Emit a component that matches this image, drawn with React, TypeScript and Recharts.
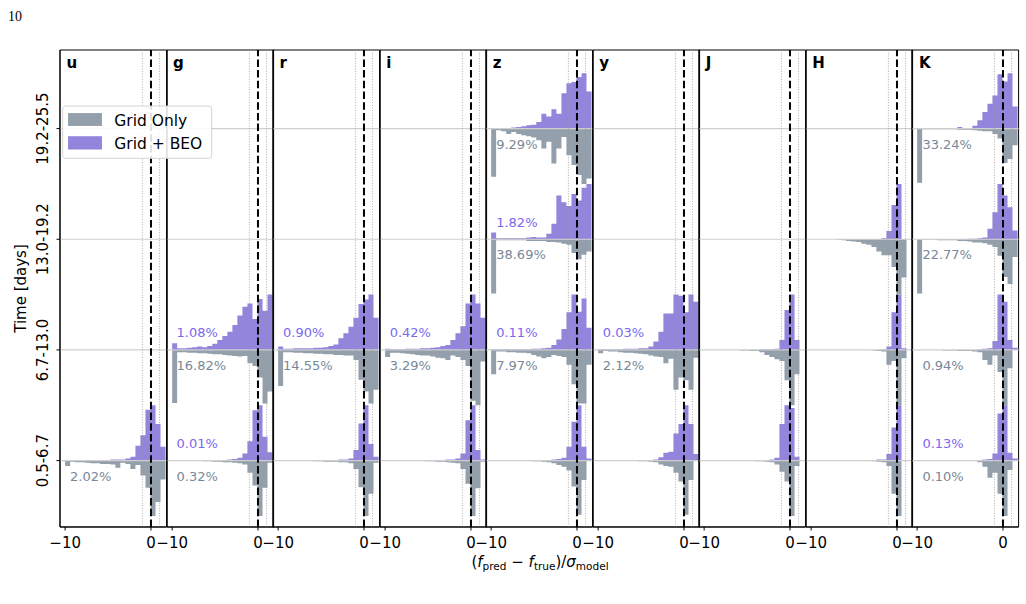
import { ComposedChart, Area, XAxis, YAxis, ReferenceLine, ReferenceArea } from "recharts";

const FONT = "'DejaVu Sans', sans-serif";
const BEO_FILL = "#9384dc";
const GRID_FILL = "#939fab";
const BEO_TEXT = "#7b68ee";
const GRID_TEXT = "#778899";

// histogram bin edges (shared by every band)
const BIN_EDGES = [
  -10.0, -9.42, -8.83, -8.25, -7.66, -7.08, -6.49, -5.91, -5.32, -4.74, -4.15,
  -3.57, -2.98, -2.4, -1.81, -1.23, -0.64, -0.06, 0.53, 1.11, 1.7,
];
const ROW_LABELS = ["0.5-6.7", "6.7-13.0", "13.0-19.2", "19.2-25.5"];
const ROWS = [0, 1, 2, 3];
const X_TICKS = [-10, 0];
const BANDS = ["u", "g", "r", "i", "z", "y", "J", "H", "K"];

// normalised counts (1 = tallest bin of that histogram); row 0 = 0.5-6.7 d
const beoU0 = [0, 0, 0.01, 0.01, 0.01, 0.01, 0.01, 0.01, 0.01, 0.02, 0.02, 0.02, 0.04, 0.07, 0.27, 0.46, 0.92, 1.0, 0.66, 0.25];
const gridU0 = [0.1, 0.02, 0.03, 0.03, 0.04, 0.05, 0.05, 0.06, 0.06, 0.07, 0.13, 0.04, 0.06, 0.15, 0.08, 0.27, 0.49, 1.0, 0.75, 0.34];

const beoG1 = [0.12, 0.03, 0.03, 0.04, 0.05, 0.06, 0.05, 0.07, 0.11, 0.18, 0.25, 0.33, 0.45, 0.62, 0.78, 0.84, 0.56, 0.92, 0.71, 1.0];
const gridG1 = [0.96, 0.04, 0.04, 0.05, 0.05, 0.06, 0.06, 0.07, 0.08, 0.08, 0.09, 0.1, 0.11, 0.12, 0.11, 0.24, 0.29, 0.5, 0.97, 0.75];
const beoG0 = [0, 0, 0, 0, 0, 0, 0, 0, 0.01, 0.01, 0.01, 0.02, 0.03, 0.05, 0.13, 0.35, 0.91, 1.0, 0.43, 0.15];
const gridG0 = [0, 0, 0, 0, 0, 0, 0.01, 0.01, 0.02, 0.02, 0.03, 0.03, 0.04, 0.05, 0.07, 0.22, 0.45, 1.0, 0.49, 0.04];

const beoR1 = [0.06, 0.02, 0.02, 0.03, 0.03, 0.03, 0.03, 0.04, 0.04, 0.05, 0.07, 0.1, 0.21, 0.3, 0.42, 0.58, 0.83, 0.91, 1.0, 0.58];
const gridR1 = [0.65, 0.04, 0.04, 0.05, 0.05, 0.06, 0.06, 0.07, 0.07, 0.08, 0.08, 0.09, 0.09, 0.1, 0.1, 0.18, 0.54, 0.75, 0.97, 0.72];
const beoR0 = [0, 0, 0, 0, 0, 0, 0, 0, 0, 0.01, 0.01, 0.01, 0.02, 0.02, 0.04, 0.19, 0.67, 1.0, 0.3, 0.07];
const gridR0 = [0, 0, 0, 0, 0, 0, 0, 0.01, 0.01, 0.02, 0.02, 0.02, 0.03, 0.03, 0.05, 0.15, 0.48, 1.0, 0.6, 0.04];

const beoI1 = [0.02, 0.01, 0.01, 0.01, 0.02, 0.02, 0.02, 0.03, 0.03, 0.04, 0.05, 0.07, 0.09, 0.18, 0.3, 0.43, 0.84, 1.0, 0.84, 0.58];
const gridI1 = [0.13, 0.05, 0.05, 0.06, 0.07, 0.08, 0.09, 0.1, 0.1, 0.12, 0.14, 0.15, 0.18, 0.1, 0.13, 0.18, 0.29, 0.92, 1.0, 0.21];
const beoI0 = [0, 0, 0, 0, 0, 0, 0, 0, 0, 0, 0.01, 0.01, 0.02, 0.02, 0.04, 0.13, 0.73, 1.0, 0.19, 0.02];
const gridI0 = [0, 0, 0, 0, 0, 0, 0, 0, 0.01, 0.01, 0.02, 0.02, 0.03, 0.04, 0.05, 0.15, 0.42, 1.0, 0.5, 0.02];

const beoZ3 = [0, 0, 0.01, 0.01, 0.02, 0.03, 0.04, 0.06, 0.07, 0.12, 0.27, 0.22, 0.35, 0.27, 0.64, 0.82, 0.84, 0.93, 1.0, 0.67];
const gridZ3 = [0.87, 0.03, 0.05, 0.1, 0.06, 0.1, 0.12, 0.14, 0.16, 0.21, 0.36, 0.24, 0.63, 0.36, 0.15, 0.48, 0.66, 0.84, 1.0, 0.9];
const beoZ2 = [0.12, 0.02, 0.02, 0.02, 0.02, 0.02, 0.02, 0.03, 0.04, 0.03, 0.03, 0.1, 0.28, 0.79, 0.67, 0.6, 0.82, 0.7, 0.93, 1.0];
const gridZ2 = [0.98, 0.02, 0.02, 0.02, 0.02, 0.02, 0.02, 0.03, 0.03, 0.03, 0.03, 0.05, 0.05, 0.06, 0.08, 0.1, 0.25, 0.36, 0.28, 0.22];
const beoZ1 = [0.01, 0.01, 0.01, 0.01, 0.01, 0.01, 0.01, 0.01, 0.02, 0.02, 0.03, 0.04, 0.09, 0.19, 0.38, 0.68, 1.0, 0.69, 0.93, 0.4];
const gridZ1 = [0.44, 0.03, 0.03, 0.04, 0.04, 0.05, 0.05, 0.06, 0.09, 0.12, 0.15, 0.13, 0.09, 0.11, 0.13, 0.27, 0.62, 0.97, 0.97, 0.27];
const beoZ0 = [0, 0, 0, 0, 0, 0, 0, 0, 0, 0.01, 0.01, 0.01, 0.02, 0.03, 0.05, 0.25, 0.7, 1.0, 0.25, 0.04];
const gridZ0 = [0, 0, 0, 0, 0, 0, 0, 0, 0.01, 0.01, 0.02, 0.03, 0.05, 0.08, 0.11, 0.18, 0.47, 0.98, 0.35, 0];

const beoY1 = [0.01, 0.01, 0.01, 0.01, 0.01, 0.02, 0.02, 0.02, 0.03, 0.03, 0.06, 0.15, 0.33, 0.66, 0.66, 1.0, 0.98, 0.68, 1.0, 0.87];
const gridY1 = [0.06, 0.02, 0.03, 0.03, 0.04, 0.05, 0.05, 0.06, 0.07, 0.08, 0.1, 0.12, 0.13, 0.24, 0.16, 0.72, 0.5, 0.55, 0.72, 0.14];
const beoY0 = [0, 0, 0, 0, 0, 0, 0, 0, 0, 0, 0.01, 0.02, 0.06, 0.14, 0.16, 0.49, 0.66, 1.0, 0.66, 0.12];
const gridY0 = [0, 0, 0, 0, 0, 0, 0, 0, 0.01, 0.01, 0.02, 0.03, 0.07, 0.1, 0.11, 0.22, 0.38, 0.98, 0.35, 0];

const beoJ1 = [0, 0, 0, 0, 0, 0, 0, 0, 0, 0, 0, 0.01, 0.01, 0.01, 0.02, 0.18, 0.72, 1.0, 0.18, 0];
const gridJ1 = [0, 0, 0, 0, 0, 0, 0, 0.01, 0.01, 0.02, 0.02, 0.04, 0.09, 0.13, 0.17, 0.2, 0.55, 1.0, 0.44, 0];
const beoJ0 = [0, 0, 0, 0, 0, 0, 0, 0, 0, 0, 0, 0, 0.01, 0.02, 0.05, 0.66, 1.0, 0.95, 0.07, 0];
const gridJ0 = [0, 0, 0, 0, 0, 0, 0, 0, 0, 0, 0.01, 0.01, 0.02, 0.03, 0.07, 0.2, 0.38, 1.0, 0.1, 0];

const beoH2 = [0, 0, 0, 0, 0, 0, 0, 0, 0, 0, 0, 0, 0, 0, 0.02, 0.15, 0.62, 1.0, 0, 0];
const gridH2 = [0, 0, 0, 0, 0, 0.01, 0.02, 0.03, 0.04, 0.05, 0.08, 0.1, 0.14, 0.22, 0.29, 0.29, 0.5, 1.0, 0.69, 0];
const beoH1 = [0, 0, 0, 0, 0, 0, 0, 0, 0, 0, 0, 0, 0, 0, 0.01, 0.06, 0.68, 1.0, 0.03, 0];
const gridH1 = [0, 0, 0, 0, 0, 0, 0, 0, 0, 0, 0, 0, 0.01, 0.02, 0.03, 0.27, 0.2, 1.0, 0.15, 0];
const beoH0 = [0, 0, 0, 0, 0, 0, 0, 0, 0.01, 0.01, 0.01, 0.01, 0.01, 0.02, 0.02, 0.12, 0.6, 1.0, 0, 0];
const gridH0 = [0, 0, 0, 0, 0, 0, 0, 0, 0, 0, 0, 0, 0.01, 0.02, 0.03, 0.1, 0.6, 1.0, 0, 0];

const beoK3 = [0, 0, 0, 0, 0, 0, 0, 0, 0.03, 0.01, 0.01, 0.05, 0.15, 0.3, 0.45, 0.6, 0.98, 0.85, 1.0, 0.4];
const gridK3 = [0.98, 0.01, 0.01, 0.01, 0.01, 0.01, 0.01, 0.01, 0.02, 0.02, 0.02, 0.03, 0.04, 0.05, 0.05, 0.1, 0.18, 0.62, 0.55, 0.3];
const beoK2 = [0, 0, 0, 0, 0, 0, 0, 0, 0, 0, 0.01, 0.01, 0.02, 0.03, 0.19, 0.49, 1.0, 0.79, 0.58, 0.16];
const gridK2 = [0.98, 0.01, 0.01, 0.01, 0.02, 0.02, 0.02, 0.02, 0.03, 0.03, 0.04, 0.06, 0.06, 0.07, 0.1, 0.14, 0.3, 0.68, 0.81, 0.32];
const beoK1 = [0, 0, 0, 0, 0, 0, 0, 0, 0, 0, 0, 0, 0.01, 0.02, 0.03, 0.16, 1.0, 0.87, 0.18, 0.04];
const gridK1 = [0, 0, 0, 0, 0, 0.01, 0.01, 0.01, 0.02, 0.02, 0.02, 0.03, 0.04, 0.18, 0.27, 0.1, 0.4, 1.0, 0.33, 0];
const beoK0 = [0, 0, 0, 0, 0, 0, 0, 0.01, 0.01, 0.01, 0.01, 0.01, 0.01, 0.02, 0.03, 0.13, 0.85, 1.0, 0.14, 0.04];
const gridK0 = [0, 0, 0, 0, 0, 0, 0, 0, 0, 0, 0, 0, 0.03, 0.11, 0.31, 0.22, 0.6, 1.0, 0.17, 0];

type Hist = { row: number; beo: number[]; grid: number[]; beoPct?: string; gridPct?: string };

const PANELS: Hist[][] = [
  [{ row: 0, beo: beoU0, grid: gridU0, gridPct: "2.02%" }],
  [
    { row: 1, beo: beoG1, grid: gridG1, beoPct: "1.08%", gridPct: "16.82%" },
    { row: 0, beo: beoG0, grid: gridG0, beoPct: "0.01%", gridPct: "0.32%" },
  ],
  [
    { row: 1, beo: beoR1, grid: gridR1, beoPct: "0.90%", gridPct: "14.55%" },
    { row: 0, beo: beoR0, grid: gridR0 },
  ],
  [
    { row: 1, beo: beoI1, grid: gridI1, beoPct: "0.42%", gridPct: "3.29%" },
    { row: 0, beo: beoI0, grid: gridI0 },
  ],
  [
    { row: 3, beo: beoZ3, grid: gridZ3, gridPct: "9.29%" },
    { row: 2, beo: beoZ2, grid: gridZ2, beoPct: "1.82%", gridPct: "38.69%" },
    { row: 1, beo: beoZ1, grid: gridZ1, beoPct: "0.11%", gridPct: "7.97%" },
    { row: 0, beo: beoZ0, grid: gridZ0 },
  ],
  [
    { row: 1, beo: beoY1, grid: gridY1, beoPct: "0.03%", gridPct: "2.12%" },
    { row: 0, beo: beoY0, grid: gridY0 },
  ],
  [
    { row: 1, beo: beoJ1, grid: gridJ1 },
    { row: 0, beo: beoJ0, grid: gridJ0 },
  ],
  [
    { row: 2, beo: beoH2, grid: gridH2 },
    { row: 1, beo: beoH1, grid: gridH1 },
    { row: 0, beo: beoH0, grid: gridH0 },
  ],
  [
    { row: 3, beo: beoK3, grid: gridK3, gridPct: "33.24%" },
    { row: 2, beo: beoK2, grid: gridK2, gridPct: "22.77%" },
    { row: 1, beo: beoK1, grid: gridK1, gridPct: "0.94%" },
    { row: 0, beo: beoK0, grid: gridK0, beoPct: "0.13%", gridPct: "0.10%" },
  ],
];

// layout
const PLOT_LEFT = 60;
const PANEL_STEP = 106.55;
const PANEL_W = 106.6;
const PLOT_TOP = 50;
const PLOT_H = 477;
const X_DOMAIN: [number, number] = [-10.6, 1.82];
const Y_DOMAIN: [number, number] = [-0.6, 3.71];
const HALF = 0.5; // tallest bin reaches half a row

const rowPx = (r: number) =>
  PLOT_TOP + ((Y_DOMAIN[1] - r) / (Y_DOMAIN[1] - Y_DOMAIN[0])) * PLOT_H;

function buildRows(hists: Hist[]) {
  return BIN_EDGES.map((x, k) => {
    const i = Math.min(k, BIN_EDGES.length - 2);
    const pt: Record<string, unknown> = { x };
    hists.forEach((h) => {
      pt[`beo${h.row}`] = [h.row, h.row + HALF * h.beo[i]];
      pt[`grid${h.row}`] = [h.row - HALF * h.grid[i], h.row];
    });
    return pt;
  });
}

const fmtX = (v: number) => (v < 0 ? `\u2212${-v}` : `${v}`);

function RowTick(props: any) {
  const { x, y, payload } = props;
  return (
    <text
      x={x}
      y={y}
      transform={`rotate(-90, ${x}, ${y})`}
      textAnchor="middle"
      dominantBaseline="central"
      fontSize={15}
      fontFamily={FONT}
      fill="#000"
    >
      {ROW_LABELS[payload.value]}
    </text>
  );
}

function Panel({ index }: { index: number }) {
  const hists = PANELS[index];
  const data = buildRows(hists);
  const first = index === 0;
  const left = PLOT_LEFT + PANEL_STEP * index;
  const axisW = first ? 60 : 1;
  const marginL = first ? 0 : 19;

  return (
    <div style={{ position: "absolute", left: left - axisW - marginL, top: PLOT_TOP - 5 }}>
      <ComposedChart
        width={marginL + axisW + PANEL_W + 20}
        height={5 + PLOT_H + 30}
        data={data}
        margin={{ top: 5, right: 20, bottom: 0, left: marginL }}
      >
        <XAxis
          dataKey="x"
          type="number"
          domain={X_DOMAIN}
          allowDataOverflow
          ticks={X_TICKS}
          interval={0}
          tickFormatter={fmtX}
          tickSize={3.5}
          tickMargin={7}
          height={30}
          axisLine={{ stroke: "#000", strokeWidth: 1 }}
          tickLine={{ stroke: "#000", strokeWidth: 1 }}
          tick={{ fill: "#000", fontSize: 15, fontFamily: FONT }}
        />
        <YAxis
          type="number"
          domain={Y_DOMAIN}
          allowDataOverflow
          ticks={ROWS}
          interval={0}
          width={axisW}
          tickSize={3.5}
          tickMargin={13}
          axisLine={{ stroke: "#000", strokeWidth: 1 }}
          tickLine={{ stroke: "#000", strokeWidth: 1 }}
          tick={first ? <RowTick /> : false}
        />
        {ROWS.map((r) => (
          <ReferenceLine key={`base${r}`} y={r} stroke="#cfcfcf" strokeWidth={1.2} />
        ))}
        {hists.map((h) => (
          <Area
            key={`beo${h.row}`}
            type="stepAfter"
            dataKey={`beo${h.row}`}
            fill={BEO_FILL}
            fillOpacity={1}
            stroke="none"
            dot={false}
            activeDot={false}
            isAnimationActive={false}
          />
        ))}
        {hists.map((h) => (
          <Area
            key={`grid${h.row}`}
            type="stepAfter"
            dataKey={`grid${h.row}`}
            fill={GRID_FILL}
            fillOpacity={1}
            stroke="none"
            dot={false}
            activeDot={false}
            isAnimationActive={false}
          />
        ))}
        <ReferenceLine x={-1} stroke="#999" strokeWidth={0.8} strokeDasharray="1 1.6" />
        <ReferenceLine x={1} stroke="#999" strokeWidth={0.8} strokeDasharray="1 1.6" />
        <ReferenceLine x={0} stroke="#000" strokeWidth={2} strokeDasharray="7.5 3.2" />
        <ReferenceArea
          x1={X_DOMAIN[0]}
          x2={X_DOMAIN[1]}
          y1={Y_DOMAIN[0]}
          y2={Y_DOMAIN[1]}
          ifOverflow="visible"
          fill="none"
          fillOpacity={0}
          stroke="#000"
          strokeWidth={1}
        />
      </ComposedChart>
    </div>
  );
}

function Overlay() {
  return (
    <svg
      width={1026}
      height={604}
      style={{ position: "absolute", left: 0, top: 0, pointerEvents: "none" }}
      fontFamily={FONT}
    >
      <text x={8} y={21} fontSize={14} fontFamily="'Liberation Serif', serif" fill="#000">
        10
      </text>
      {BANDS.map((b, i) => (
        <text key={b} x={PLOT_LEFT + PANEL_STEP * i + 6.5} y={68} fontSize={15} fontWeight="bold" fill="#000">
          {b}
        </text>
      ))}
      {PANELS.map((hists, i) =>
        hists.map((h) => {
          const x = PLOT_LEFT + PANEL_STEP * i + 10;
          const base = rowPx(h.row);
          return (
            <g key={`${i}-${h.row}`}>
              {h.beoPct && (
                <text x={x} y={base - 12.7} fontSize={13} fill={BEO_TEXT}>
                  {h.beoPct}
                </text>
              )}
              {h.gridPct && (
                <text x={x} y={base + 20} fontSize={13} fill={GRID_TEXT}>
                  {h.gridPct}
                </text>
              )}
            </g>
          );
        })
      )}
      <text
        x={21}
        y={PLOT_TOP + PLOT_H / 2}
        transform={`rotate(-90, 21, ${PLOT_TOP + PLOT_H / 2})`}
        textAnchor="middle"
        dominantBaseline="central"
        fontSize={15}
        fill="#000"
      >
        Time [days]
      </text>
      <text x={540} y={567} textAnchor="middle" fontSize={15} fill="#000">
        (<tspan fontStyle="italic">f</tspan>
        <tspan fontSize={10.5} dy={3}>pred</tspan>
        <tspan dy={-3}> {"\u2212"} </tspan>
        <tspan fontStyle="italic">f</tspan>
        <tspan fontSize={10.5} dy={3}>true</tspan>
        <tspan dy={-3}>)/</tspan>
        <tspan fontStyle="italic">{"\u03c3"}</tspan>
        <tspan fontSize={10.5} dy={3}>model</tspan>
      </text>
      {/* legend */}
      <rect x={62.7} y={106} width={149} height={52.3} rx={3} fill="#fff" fillOpacity={0.88} stroke="#d4d4d4" />
      <rect x={68.3} y={113.3} width={33.4} height={12.4} fill={GRID_FILL} stroke="#8b96a2" strokeWidth={0.6} />
      <rect x={68.3} y={136.7} width={33.4} height={12.4} fill={BEO_FILL} stroke="#8878d6" strokeWidth={0.6} />
      <text x={114.3} y={125.5} fontSize={15.5} fill="#000">
        Grid Only
      </text>
      <text x={114.3} y={148.8} fontSize={15.5} fill="#000">
        Grid + BEO
      </text>
    </svg>
  );
}

export default function App() {
  return (
    <div style={{ position: "absolute", left: 0, top: 0, width: 1026, height: 604, background: "#fff" }}>
      {BANDS.map((b, i) => (
        <Panel key={b} index={i} />
      ))}
      <Overlay />
    </div>
  );
}
